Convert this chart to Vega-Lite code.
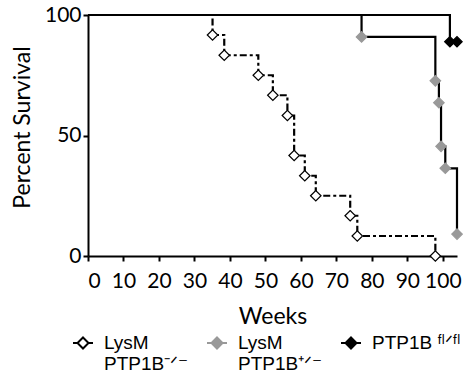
{
  "$schema": "https://vega.github.io/schema/vega-lite/v6.json",
  "autosize": {"type": "none"},
  "width": 369,
  "height": 241,
  "padding": {"left": 88, "top": 15, "right": 6, "bottom": 127},
  "background": "white",
  "config": {"view": {"stroke": null}, "axis": {"grid": false}},
  "data": {"values": [
    {"series": "LysM PTP1B-/-", "weeks": 0, "pct": 100},
    {"series": "LysM PTP1B-/-", "weeks": 35.1, "pct": 91.7},
    {"series": "LysM PTP1B-/-", "weeks": 38.4, "pct": 83.3},
    {"series": "LysM PTP1B-/-", "weeks": 48.0, "pct": 75},
    {"series": "LysM PTP1B-/-", "weeks": 52.1, "pct": 66.7},
    {"series": "LysM PTP1B-/-", "weeks": 56.2, "pct": 58.3},
    {"series": "LysM PTP1B-/-", "weeks": 58.1, "pct": 41.7},
    {"series": "LysM PTP1B-/-", "weeks": 61.1, "pct": 33.3},
    {"series": "LysM PTP1B-/-", "weeks": 64.2, "pct": 25},
    {"series": "LysM PTP1B-/-", "weeks": 73.9, "pct": 16.7},
    {"series": "LysM PTP1B-/-", "weeks": 75.9, "pct": 8.3},
    {"series": "LysM PTP1B-/-", "weeks": 97.9, "pct": 0},
    {"series": "LysM PTP1B+/-", "weeks": 0, "pct": 100},
    {"series": "LysM PTP1B+/-", "weeks": 77.1, "pct": 90.9},
    {"series": "LysM PTP1B+/-", "weeks": 97.9, "pct": 72.7},
    {"series": "LysM PTP1B+/-", "weeks": 98.9, "pct": 63.6},
    {"series": "LysM PTP1B+/-", "weeks": 99.5, "pct": 45.5},
    {"series": "LysM PTP1B+/-", "weeks": 100.7, "pct": 36.4},
    {"series": "LysM PTP1B+/-", "weeks": 104.0, "pct": 9.1},
    {"series": "PTP1B fl/fl", "weeks": 0, "pct": 100},
    {"series": "PTP1B fl/fl", "weeks": 102.0, "pct": 88.9},
    {"series": "PTP1B fl/fl", "weeks": 104.0, "pct": 88.9}
  ]},
  "encoding": {
    "x": {"field": "weeks", "type": "quantitative",
      "scale": {"domain": [0, 104], "nice": false, "zero": false},
      "axis": {"values": [0,10,20,30,40,50,60,70,80,90,100], "title": "Weeks",
        "domainColor": "black", "domainWidth": 2, "tickColor": "black", "tickWidth": 2, "tickSize": 5,
        "labelFont": "Lato", "labelFontSize": 21, "labelColor": "black", "labelPadding": 9,
        "titleFont": "Lato", "titleFontSize": 23, "titleFontWeight": "normal", "titleColor": "black", "titlePadding": 14}},
    "y": {"field": "pct", "type": "quantitative",
      "scale": {"domain": [0, 100], "nice": false},
      "axis": {"values": [0, 50, 100], "title": "Percent Survival",
        "domainColor": "black", "domainWidth": 2, "tickColor": "black", "tickWidth": 2, "tickSize": 5,
        "labelFont": "Lato", "labelFontSize": 21, "labelColor": "black", "labelPadding": 2,
        "titleFont": "Lato", "titleFontSize": 23, "titleFontWeight": "normal", "titleColor": "black", "titlePadding": 10, "titleY": 112}}
  },
  "layer": [
    {
      "transform": [{"filter": "datum.series == 'LysM PTP1B-/-'"}],
      "mark": {"type": "line", "interpolate": "step-after", "color": "black", "strokeWidth": 2.2, "strokeDash": [7, 3, 3, 3]},
      "encoding": {}
    },
    {
      "transform": [{"filter": "datum.series != 'LysM PTP1B-/-'"}],
      "mark": {"type": "line", "interpolate": "step-after", "color": "black", "strokeWidth": 2.2},
      "encoding": {"detail": {"field": "series", "type": "nominal"}}
    },
    {
      "transform": [{"filter": "datum.weeks > 0"}],
      "mark": {"type": "point", "shape": "diamond", "filled": true, "size": 110, "strokeWidth": 1.2, "opacity": 1},
      "encoding": {
        "fill": {"field": "series", "type": "nominal",
          "scale": {"domain": ["LysM PTP1B-/-", "LysM PTP1B+/-", "PTP1B fl/fl"], "range": ["white", "#999999", "black"]},
          "legend": {"orient": "none", "legendX": -16, "legendY": 317, "title": null, "columns": 3, "columnPadding": 14,
            "symbolType": "M-1,0H-0.45M0.45,0H1M0,-0.55L0.55,0L0,0.55L-0.55,0Z", "symbolSize": 400, "symbolStrokeWidth": 2,
            "labelFont": "Liberation Sans", "labelFontSize": 19, "labelColor": "black", "labelOffset": 10,
            "labelBaseline": "middle",
            "labelExpr": "datum.value == 'LysM PTP1B-/-' ? ['   LysM', 'PTP1B⁻ᐟ⁻'] : datum.value == 'LysM PTP1B+/-' ? ['   LysM', 'PTP1B⁺ᐟ⁻'] : ['PTP1B ᶠˡᐟᶠˡ', '']",
            "encode": {"labels": {"update": {"lineHeight": {"value": 23}, "dy": {"value": 11.5}}}}}},
        "stroke": {"field": "series", "type": "nominal",
          "scale": {"domain": ["LysM PTP1B-/-", "LysM PTP1B+/-", "PTP1B fl/fl"], "range": ["black", "#999999", "black"]}}
      }
    }
  ]
}
